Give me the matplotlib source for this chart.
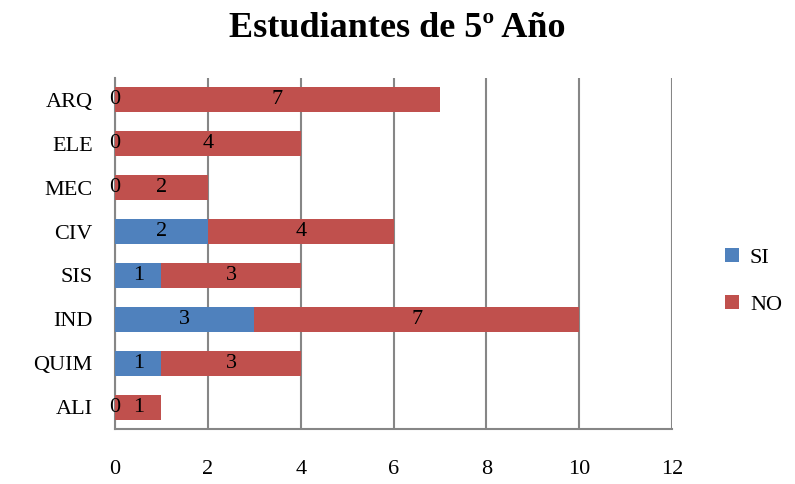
import matplotlib
matplotlib.use('Agg')
import matplotlib.pyplot as plt
import numpy as np

# Datos
categorias = ['ARQ', 'ELE', 'MEC', 'CIV', 'SIS', 'IND', 'QUIM', 'ALI']
si = [0, 0, 0, 2, 1, 3, 1, 0]
no = [7, 4, 2, 4, 3, 7, 3, 1]
x_ticks = [0, 2, 4, 6, 8, 10, 12]

plt.rcParams['font.family'] = ['Liberation Serif', 'DejaVu Serif']

fig = plt.figure(figsize=(7.95, 4.84), dpi=100)
ax = fig.add_axes([0.1447, 0.1136, 0.7006, 0.7252])

y = np.arange(len(categorias))
alto = 0.57

b_si = ax.barh(y, si, height=alto, color='#4F81BD', label='SI', zorder=3)
b_no = ax.barh(y, no, left=si, height=alto, color='#C0504D', label='NO', zorder=3)

ax.bar_label(b_si, label_type='center', fontsize=16, color='black')
ax.bar_label(b_no, label_type='center', fontsize=16, color='black')

ax.set_yticks(y)
ax.set_yticklabels(categorias, fontsize=16)
ax.set_ylim(len(categorias) - 0.5, -0.5)
ax.set_xlim(0, 12)
ax.set_xticks(x_ticks)
ax.tick_params(axis='x', labelsize=16, length=0, pad=22)
ax.tick_params(axis='y', length=0, pad=16)

ax.grid(axis='x', color='#868686', linewidth=1.5, zorder=0)
for s in ['top', 'right']:
    ax.spines[s].set_visible(False)
for s in ['left', 'bottom']:
    ax.spines[s].set_color('#868686')
    ax.spines[s].set_linewidth(1.5)

fig.suptitle('Estudiantes de 5º Año', fontsize=26, fontweight='bold', y=0.975)

ax.legend(loc='center left', bbox_to_anchor=(1.06, 0.42), frameon=False,
          fontsize=16, handlelength=0.6, handleheight=0.6, handletextpad=0.5,
          labelspacing=1.2)

plt.savefig('out.png', dpi=100, facecolor='white')
plt.close()
